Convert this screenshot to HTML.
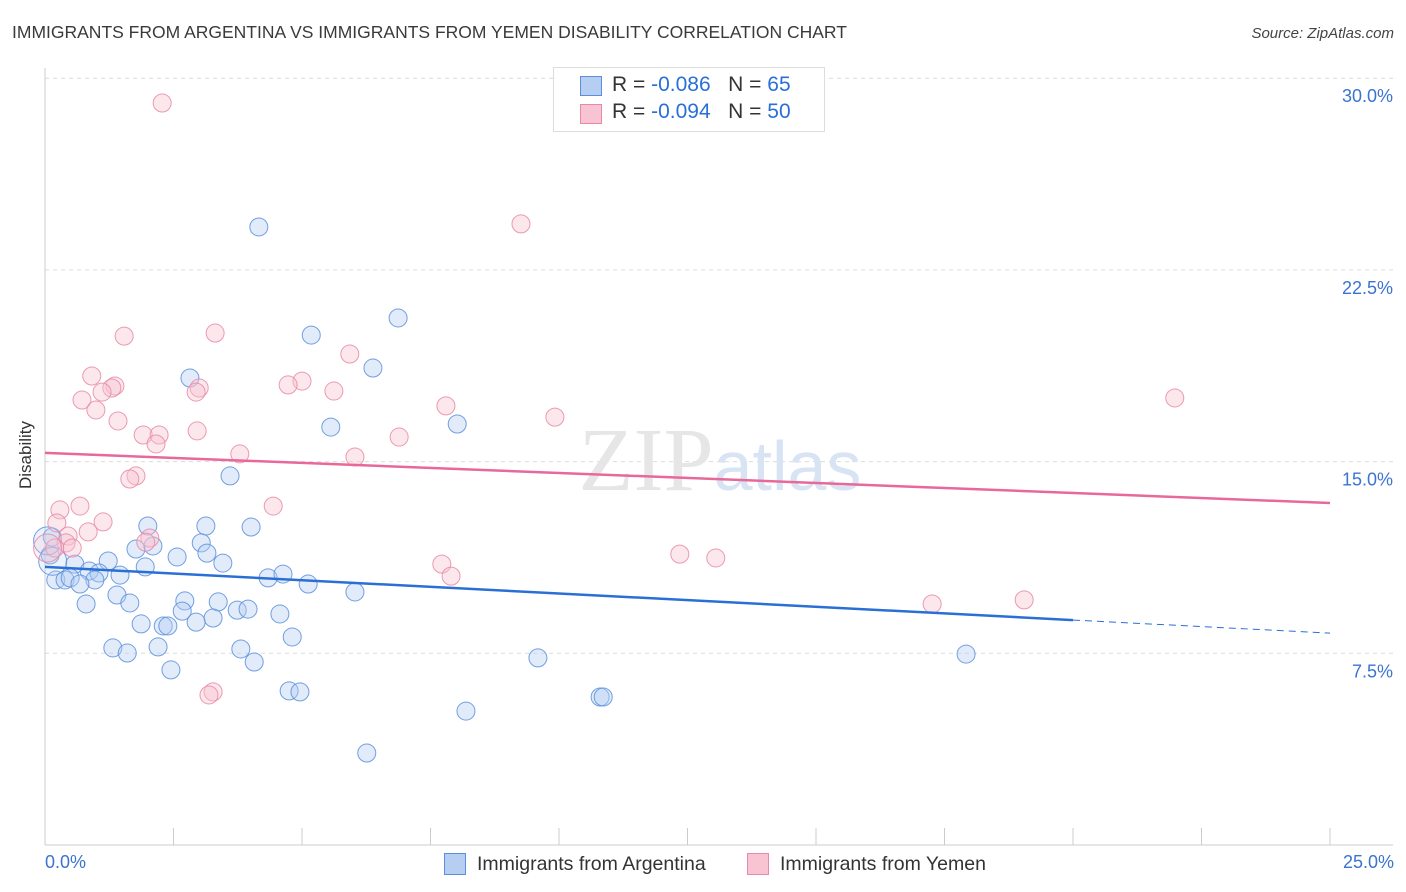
<!DOCTYPE html>
<html><head><meta charset="utf-8">
<style>
body{margin:0;background:#fff;font-family:"Liberation Sans",sans-serif;}
#wrap{position:relative;width:1406px;height:892px;overflow:hidden;}
.t{position:absolute;white-space:nowrap;}
</style></head>
<body>
<div id="wrap">
<div class="t" style="left:12px;top:22px;font-size:17.5px;color:#3a3a3a;">IMMIGRANTS FROM ARGENTINA VS IMMIGRANTS FROM YEMEN DISABILITY CORRELATION CHART</div>
<div class="t" style="right:12px;top:25px;font-size:15px;color:#444;font-style:italic;">Source: ZipAtlas.com</div>
<svg id="svg" width="1406" height="892" style="position:absolute;left:0;top:0"></svg>
</div>
<script>
const xTicksPct=[0,2.5,5,7.5,10,12.5,15,17.5,20,22.5,25];
const yTicks=[7.5,15,22.5,30];
const yTickLabels=["7.5%","15.0%","22.5%","30.0%"];
const blueX=[4.16,6.87,5.18,2.82,6.38,5.56,8.02,3.60,2.00,3.13,4.01,0.14,1.77,2.10,3.04,3.15,2.57,1.23,0.58,3.46,1.95,0.86,1.05,1.46,4.34,4.63,0.21,0.39,0.49,0.97,0.68,5.12,6.03,1.40,2.72,3.37,1.65,0.80,2.67,3.74,3.95,4.57,3.27,2.94,1.87,2.30,2.39,4.81,1.32,1.60,2.20,3.81,4.07,2.45,4.75,4.96,8.19,6.26,9.59,10.80,10.86,17.92,0.10,0.05,0.15];
const blueY=[24.18,20.62,19.95,18.27,18.66,16.35,16.47,14.44,12.48,12.48,12.44,12.05,11.58,11.70,11.82,11.42,11.27,11.11,10.99,11.03,10.88,10.72,10.64,10.56,10.45,10.60,10.37,10.37,10.45,10.37,10.21,10.21,9.90,9.78,9.55,9.51,9.47,9.43,9.15,9.19,9.23,9.04,8.88,8.72,8.65,8.57,8.57,8.14,7.71,7.51,7.75,7.67,7.16,6.85,6.03,5.99,5.24,3.60,7.32,5.79,5.79,7.47,11.35,11.9,11.1];
const pinkX=[2.28,9.26,1.54,3.31,5.93,0.91,1.36,1.30,5.00,4.73,3.00,2.94,1.11,5.62,0.72,7.80,0.99,9.92,1.42,2.96,1.91,2.22,2.16,6.89,6.03,3.79,1.77,1.65,21.98,0.68,4.44,0.29,1.13,0.23,0.84,0.45,2.04,1.96,0.41,0.19,0.53,12.35,13.05,7.72,7.90,17.26,19.05,3.27,3.19,0.05];
const pinkY=[29.03,24.30,19.91,20.03,19.21,18.35,17.96,17.88,18.15,18.00,17.88,17.72,17.72,17.76,17.41,17.18,17.02,16.74,16.59,16.20,16.04,16.04,15.69,15.96,15.18,15.30,14.44,14.32,17.49,13.26,13.26,13.11,12.64,12.60,12.25,12.09,12.01,11.85,11.82,11.62,11.62,11.38,11.23,10.99,10.52,9.43,9.59,5.99,5.87,11.62];
const blueTrend=[10.88,8.80,8.29]; // at x=0, 20, 25
const pinkTrend=[15.34,13.38]; // at x=0, 25
const X=v=>45+v*51.4, Y=v=>845-v*25.56;
const svg=document.getElementById('svg');const NS='http://www.w3.org/2000/svg';
function mk(t,a,p){const e=document.createElementNS(NS,t);for(const k in a)e.setAttribute(k,a[k]);(p||svg).appendChild(e);return e;}
yTicks.forEach((v,i)=>{
 const g=mk('line',{x1:45,x2:1393,y1:Y(v),y2:Y(v),stroke:'#dcdcdc','stroke-dasharray':'4,4'});
 
 
 const t=mk('text',{x:1393,y:Y(v)+24,'text-anchor':'end','font-size':18,fill:'#3b73d1','font-family':'Liberation Sans'});
 t.textContent=yTickLabels[i];
 
 
});
const ax=mk('line',{x1:45,x2:1393,y1:845,y2:845,stroke:'#ccc'});


const ay=mk('line',{x1:45,x2:45,y1:68,y2:845,stroke:'#ccc'});


xTicksPct.forEach(v=>{
 const l=mk('line',{x1:X(v),x2:X(v),y1:828,y2:845,stroke:'#ccc'});
 
 
});
const wm=mk('text',{x:720,y:490,'text-anchor':'middle','font-size':90,fill:'#e6e6e6','font-family':'Liberation Serif'});
wm.innerHTML='ZIP<tspan fill="#d8e4f4" font-family="Liberation Sans" font-size="70">atlas</tspan>';


function dots(xs,ys,f,s,name){xs.forEach((x,i)=>{
 const big=(i>=xs.length-2&&name=='blue-point')||(i==xs.length-1&&name=='pink-point');
 const c=mk('circle',{cx:X(x),cy:Y(ys[i]),r:big?14:9,fill:f,stroke:s,'stroke-width':1,'fill-opacity':big?0.25:0.4,'stroke-opacity':0.85});
 
 
});}
dots(blueX,blueY,'#b5cef2','#5b8fdc','blue-point');
dots(pinkX,pinkY,'#f8c3d3','#e88aa7','pink-point');
const bt=mk('line',{x1:X(0),y1:Y(blueTrend[0]),x2:X(20),y2:Y(blueTrend[1]),stroke:'#2a6fd6','stroke-width':2.5});


const bd=mk('line',{x1:X(20),y1:Y(blueTrend[1]),x2:X(25),y2:Y(blueTrend[2]),stroke:'#2a6fd6','stroke-width':1,'stroke-dasharray':'7,5'});


const pt=mk('line',{x1:X(0),y1:Y(pinkTrend[0]),x2:X(25),y2:Y(pinkTrend[1]),stroke:'#e8689a','stroke-width':2.5});


</script>
<div class="t" style="left:-8px;top:445px;font-size:17px;color:#333;transform:rotate(-90deg);">Disability</div>
<div class="t" style="left:45px;top:852px;font-size:18px;color:#3b73d1;">0.0%</div>
<div class="t" style="right:12px;top:852px;font-size:18px;color:#3b73d1;">25.0%</div>
<div style="position:absolute;left:553px;top:67px;width:270px;height:63px;border:1px solid #ddd;background:#fff;font-size:21px;color:#333;">
 <div style="position:absolute;left:26px;top:8px;width:20px;height:18px;background:#b5cef2;border:1px solid #5b8fdc;"></div>
 <div class="t" style="left:58px;top:5px;">R = <span style="color:#2a6fd6">-0.086</span>&nbsp;&nbsp;&nbsp;N = <span style="color:#2a6fd6">65</span></div>
 <div style="position:absolute;left:26px;top:36px;width:20px;height:18px;background:#f8c3d3;border:1px solid #e88aa7;"></div>
 <div class="t" style="left:58px;top:32px;">R = <span style="color:#2a6fd6">-0.094</span>&nbsp;&nbsp;&nbsp;N = <span style="color:#2a6fd6">50</span></div>
</div>
<div style="position:absolute;left:444px;top:853px;font-size:19.5px;color:#333;">
 <div style="position:absolute;left:0;top:0;width:20px;height:20px;background:#b5cef2;border:1px solid #5b8fdc;"></div>
 <div class="t" style="left:33px;top:0;">Immigrants from Argentina</div></div>
<div style="position:absolute;left:747px;top:853px;font-size:19.5px;color:#333;">
 <div style="position:absolute;left:0;top:0;width:20px;height:20px;background:#f8c3d3;border:1px solid #e88aa7;"></div>
 <div class="t" style="left:33px;top:0;">Immigrants from Yemen</div></div>
</body></html>
